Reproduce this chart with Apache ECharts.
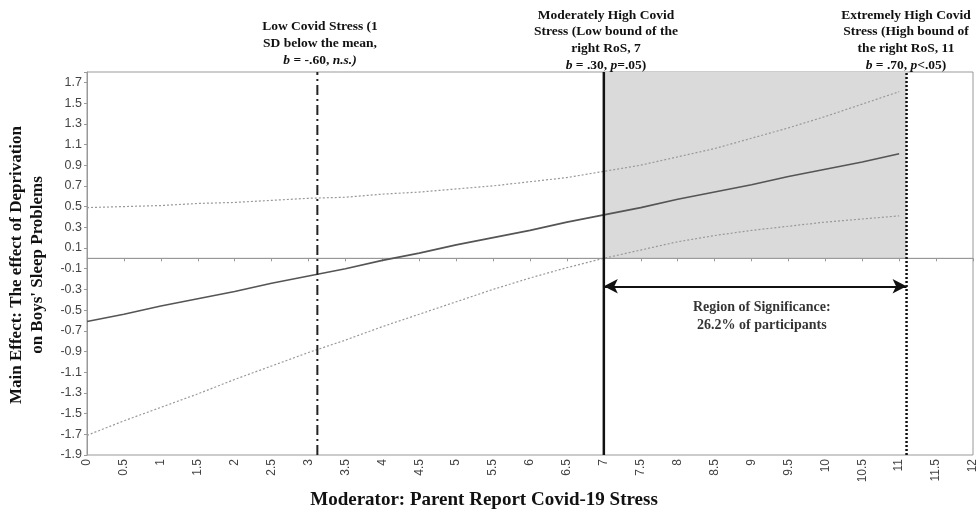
<!DOCTYPE html>
<html>
<head>
<meta charset="utf-8">
<script src="https://cdn.jsdelivr.net/npm/echarts@6/dist/echarts.min.js"></script>
<style>html,body{margin:0;padding:0;background:#fff}#c{width:979px;height:514px}</style>
</head>
<body>
<div id="c"></div>
<script>
const xValues = [0,0.5,1,1.5,2,2.5,3,3.5,4,4.5,5,5.5,6,6.5,7,7.5,8,8.5,9,9.5,10,10.5,11];
const effect  = [-0.61,-0.54,-0.46,-0.39,-0.32,-0.24,-0.17,-0.10,-0.02,0.05,0.13,0.20,0.27,0.35,0.42,0.49,0.57,0.64,0.71,0.79,0.86,0.93,1.01];
const upperCI = [0.49,0.50,0.51,0.53,0.54,0.56,0.58,0.59,0.62,0.64,0.67,0.70,0.74,0.78,0.84,0.90,0.98,1.06,1.16,1.26,1.37,1.49,1.61];
const lowerCI = [-1.71,-1.57,-1.44,-1.31,-1.17,-1.04,-0.91,-0.79,-0.66,-0.54,-0.42,-0.30,-0.19,-0.09,0.00,0.08,0.16,0.22,0.27,0.31,0.35,0.38,0.41];
const refLinesX = [3.12, 7, 11.1];      // low stress, low bound RoS, high bound RoS
const regionBounds = [7, 11.1];
const arrowY = -0.27;
const regionLabelPos = [9.14, -0.56];
const yRange = [-1.9, 1.8];

const pair = (xs, ys) => xs.map((x, i) => [x, ys[i]]);
const serif = 'Liberation Serif';
const chart = echarts.init(document.getElementById('c'));
const italic = {i: {fontStyle: 'italic', fontWeight: 'bold', fontSize: 13.5, fontFamily: serif, fill: '#111'}};

chart.setOption({
  animation: false,
  grid: {left: 87, right: 4, top: 72, bottom: 59, show: true, borderColor: '#999', borderWidth: 1},
  xAxis: {
    type: 'value', min: 0, max: 12, interval: 0.5,
    axisLine: {lineStyle: {color: '#999'}},
    axisTick: {length: 3, lineStyle: {color: '#999'}},
    splitLine: {show: false},
    axisLabel: {rotate: 90, margin: 4, fontFamily: 'Liberation Sans', fontSize: 12, color: '#444',
      formatter: v => String(+v.toFixed(1))}
  },
  yAxis: {
    type: 'value', min: yRange[0], max: yRange[1], interval: 0.2,
    axisLine: {show: true, lineStyle: {color: '#999'}},
    axisTick: {length: 3, lineStyle: {color: '#999'}},
    splitLine: {show: false},
    axisLabel: {margin: 5, fontFamily: 'Liberation Sans', fontSize: 12.5, color: '#444',
      formatter: v => Math.abs(v - yRange[1]) < 1e-6 ? '' : v.toFixed(1)}
  },
  series: [
    {
      type: 'line', data: [[0, 0], [12, 0]], symbol: 'none', z: 1,
      lineStyle: {color: '#999', width: 1},
      markArea: {silent: true, itemStyle: {color: '#dadada'},
        data: [[{coord: [regionBounds[0], 0]}, {coord: [regionBounds[1], yRange[1]]}]]}
    },
    {type: 'line', data: pair(xValues, upperCI), symbol: 'none', z: 2,
      lineStyle: {color: '#999', width: 1.2, type: [2, 2]}},
    {type: 'line', data: pair(xValues, lowerCI), symbol: 'none', z: 2,
      lineStyle: {color: '#999', width: 1.2, type: [2, 2]}},
    {type: 'line', data: pair(xValues, effect), symbol: 'none', z: 3,
      lineStyle: {color: '#555', width: 1.6}},
    {type: 'line', data: [[refLinesX[0], yRange[0]], [refLinesX[0], yRange[1]]], symbol: 'none', z: 4,
      lineStyle: {color: '#222', width: 2, type: [10, 4, 2, 4]}},
    {type: 'line', data: [[refLinesX[1], yRange[0]], [refLinesX[1], yRange[1]]], symbol: 'none', z: 4,
      lineStyle: {color: '#111', width: 2.5}},
    {type: 'line', data: [[refLinesX[2], yRange[0]], [refLinesX[2], yRange[1]]], symbol: 'none', z: 4,
      lineStyle: {color: '#111', width: 2.5, type: [2, 2]},
      markLine: {silent: true, symbol: ['arrow', 'arrow'], symbolSize: [11, 14],
        lineStyle: {color: '#111', width: 2, type: 'solid'}, label: {show: false},
        data: [[{coord: [regionBounds[0], arrowY]}, {coord: [regionBounds[1], arrowY]}]]}},
    {type: 'scatter', data: [regionLabelPos], symbolSize: 0, z: 5, silent: true,
      label: {show: true, position: 'inside', formatter: 'Region of Significance:\n26.2% of participants',
        fontFamily: serif, fontWeight: 'bold', fontSize: 14, lineHeight: 18, color: '#000', align: 'center'}}
  ],
  graphic: [
    {type: 'text', x: 320, y: 18, style: {
      text: 'Low Covid Stress (1\nSD below the mean,\n{i|b} = -.60, {i|n.s.)}',
      font: 'bold 13.5px "Liberation Serif"', fill: '#111', align: 'center', lineHeight: 17, rich: italic}},
    {type: 'text', x: 606, y: 7, style: {
      text: 'Moderately High Covid\nStress (Low bound of the\nright RoS, 7\n{i|b} = .30, {i|p}=.05)',
      font: 'bold 13.5px "Liberation Serif"', fill: '#111', align: 'center', lineHeight: 16.6, rich: italic}},
    {type: 'text', x: 906, y: 7, style: {
      text: 'Extremely High Covid\nStress (High bound of\nthe right RoS, 11\n{i|b} = .70, {i|p}<.05)',
      font: 'bold 13.5px "Liberation Serif"', fill: '#111', align: 'center', lineHeight: 16.6, rich: italic}},
    {type: 'text', x: 27, y: 265, rotation: Math.PI / 2, style: {
      text: "Main Effect: The effect of Deprivation\non Boys' Sleep Problems",
      font: 'bold 17px "Liberation Serif"', fill: '#111', align: 'center', verticalAlign: 'middle', lineHeight: 21}},
    {type: 'text', x: 484, y: 500, style: {
      text: 'Moderator: Parent Report Covid-19 Stress',
      font: 'bold 19px "Liberation Serif"', fill: '#111', align: 'center', verticalAlign: 'middle'}}
  ]
});
</script>
</body>
</html>
